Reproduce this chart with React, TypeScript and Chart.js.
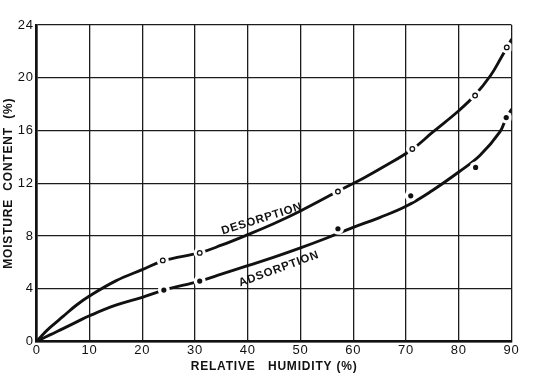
import React, { useEffect, useRef } from 'react';
import { Chart, registerables } from 'chart.js';

Chart.register(...registerables);

// ---- data ----
const xTickValues = [0, 10, 20, 30, 40, 50, 60, 70, 80, 90];
const yTickValues = [0, 4, 8, 12, 16, 20, 24];

const desorptionCurveX = [0, 1, 2.5, 5, 7.5, 10, 15, 20, 24, 31, 35, 40, 45, 50, 57, 62, 66, 71.2, 75, 80, 83, 86, 88, 90];
const desorptionCurveY = [0, 0.45, 1.05, 1.9, 2.75, 3.45, 4.6, 5.45, 6.12, 6.74, 7.3, 8.1, 8.95, 9.9, 11.37, 12.4, 13.3, 14.58, 15.85, 17.5, 18.65, 20.15, 21.5, 22.9];

const adsorptionCurveX = [0, 2.5, 5, 7.5, 10, 15, 20, 24.1, 30.9, 35, 40, 45, 50, 55, 60, 65, 70, 75, 80, 84, 87.8, 89, 90];
const adsorptionCurveY = [0, 0.5, 0.98, 1.47, 1.95, 2.75, 3.35, 3.9, 4.58, 5.1, 5.75, 6.4, 7.1, 7.85, 8.65, 9.4, 10.25, 11.45, 12.85, 14.1, 15.9, 16.95, 17.6];

const desorptionPointsX = [23.9, 30.9, 57.1, 71.2, 83.1, 89.1];
const desorptionPointsY = [6.15, 6.72, 11.37, 14.6, 18.65, 22.3];

const adsorptionPointsX = [24.1, 30.9, 57.1, 70.9, 83.2, 89.0];
const adsorptionPointsY = [3.9, 4.58, 8.55, 11.05, 13.2, 16.98];

const curveLabels = ['DESORPTION', 'ADSORPTION'];
const curveLabelX = [42.7, 45.9];
const curveLabelY = [9.3, 5.5];

const xTitle = 'RELATIVE   HUMIDITY (%)';
const yTitle = 'MOISTURE  CONTENT  (%)';

const toPoints = (xs: number[], ys: number[]) => xs.map((x, i) => ({ x, y: ys[i] }));

const FONT = '"Liberation Sans", Arial, sans-serif';
const INK = '#111111';

const letterSpacingPlugin = {
  id: 'letterSpacing',
  beforeDraw(chart: any) {
    chart.ctx.letterSpacing = '0.8px';
  },
  afterDraw(chart: any) {
    chart.ctx.letterSpacing = '0px';
  },
};

const curveLabelPlugin = {
  id: 'curveLabels',
  afterDatasetsDraw(chart: any) {
    const { ctx, scales } = chart;
    const angles = [-17.4, -20.2];
    ctx.save();
    ctx.font = `bold 11.5px ${FONT}`;
    ctx.fillStyle = INK;
    ctx.textAlign = 'center';
    ctx.textBaseline = 'middle';
    ctx.letterSpacing = '0.8px';
    curveLabels.forEach((text, i) => {
      ctx.save();
      ctx.translate(scales.x.getPixelForValue(curveLabelX[i]), scales.y.getPixelForValue(curveLabelY[i]));
      ctx.rotate((angles[i] * Math.PI) / 180);
      ctx.fillText(text, 0, 0);
      ctx.restore();
    });
    ctx.restore();
  },
};

export default function App() {
  const canvasRef = useRef<HTMLCanvasElement | null>(null);

  useEffect(() => {
    if (!canvasRef.current) return;
    const chart = new Chart(canvasRef.current, {
      type: 'line',
      data: {
        datasets: [
          {
            label: 'Desorption points',
            data: toPoints(desorptionPointsX, desorptionPointsY),
            showLine: false,
            pointStyle: 'circle',
            pointRadius: 2.3,
            pointBackgroundColor: '#ffffff',
            pointBorderColor: INK,
            pointBorderWidth: 1.3,
            order: 0,
          },
          {
            label: 'Adsorption points',
            data: toPoints(adsorptionPointsX, adsorptionPointsY),
            showLine: false,
            pointStyle: 'circle',
            pointRadius: 2.6,
            pointBackgroundColor: INK,
            pointBorderColor: INK,
            pointBorderWidth: 0,
            order: 1,
          },
          {
            label: 'Desorption gaps',
            data: toPoints(desorptionPointsX, desorptionPointsY),
            showLine: false,
            pointStyle: 'circle',
            pointRadius: 6,
            pointBackgroundColor: '#ffffff',
            pointBorderColor: '#ffffff',
            pointBorderWidth: 0,
            order: 2,
          },
          {
            label: 'Adsorption gaps',
            data: toPoints(adsorptionPointsX, adsorptionPointsY),
            showLine: false,
            pointStyle: 'circle',
            pointRadius: 6,
            pointBackgroundColor: '#ffffff',
            pointBorderColor: '#ffffff',
            pointBorderWidth: 0,
            order: 3,
          },
          {
            label: 'Desorption',
            data: toPoints(desorptionCurveX, desorptionCurveY),
            showLine: true,
            borderColor: INK,
            borderWidth: 2.9,
            borderCapStyle: 'round',
            tension: 0.4,
            pointRadius: 0,
            order: 4,
          },
          {
            label: 'Adsorption',
            data: toPoints(adsorptionCurveX, adsorptionCurveY),
            showLine: true,
            borderColor: INK,
            borderWidth: 2.9,
            borderCapStyle: 'round',
            tension: 0.4,
            pointRadius: 0,
            order: 5,
          },
        ],
      },
      options: {
        responsive: false,
        animation: false,
        events: [],
        layout: { padding: { top: 25, right: 42.5, left: 0, bottom: 0 } },
        plugins: {
          legend: { display: false },
          tooltip: { enabled: false },
        },
        scales: {
          x: {
            type: 'linear',
            min: 0,
            max: 90,
            afterBuildTicks: (scale: any) => {
              scale.ticks = xTickValues.map((v) => ({ value: v }));
            },
            afterFit: (scale: any) => {
              scale.height = 39.5;
            },
            ticks: {
              padding: 1,
              color: INK,
              font: { family: FONT, size: 13 },
              maxRotation: 0,
            },
            grid: { color: '#1c1c1c', lineWidth: 1.3, drawTicks: false },
            border: { color: INK, width: 2.6 },
            title: {
              display: true,
              text: xTitle,
              color: INK,
              font: { family: FONT, size: 12, weight: 'bold' },
              padding: { top: 0, bottom: 7 },
            },
          },
          y: {
            type: 'linear',
            min: 0,
            max: 24,
            afterBuildTicks: (scale: any) => {
              scale.ticks = yTickValues.map((v) => ({ value: v }));
            },
            afterFit: (scale: any) => {
              scale.width = 36.7;
            },
            ticks: {
              padding: 3,
              color: INK,
              font: { family: FONT, size: 13 },
            },
            grid: { color: '#1c1c1c', lineWidth: 1.3, drawTicks: false },
            border: { color: INK, width: 2.6 },
            title: {
              display: true,
              text: yTitle,
              color: INK,
              font: { family: FONT, size: 12, weight: 'bold' },
              padding: { top: 1, bottom: 0 },
            },
          },
        },
      } as any,
      plugins: [letterSpacingPlugin, curveLabelPlugin],
    });
    return () => chart.destroy();
  }, []);

  return (
    <div style={{ position: 'absolute', left: 0, top: 0, width: 554, height: 381, background: '#ffffff' }}>
      <canvas ref={canvasRef} width={554} height={381} style={{ display: 'block', width: 554, height: 381 }} />
    </div>
  );
}
